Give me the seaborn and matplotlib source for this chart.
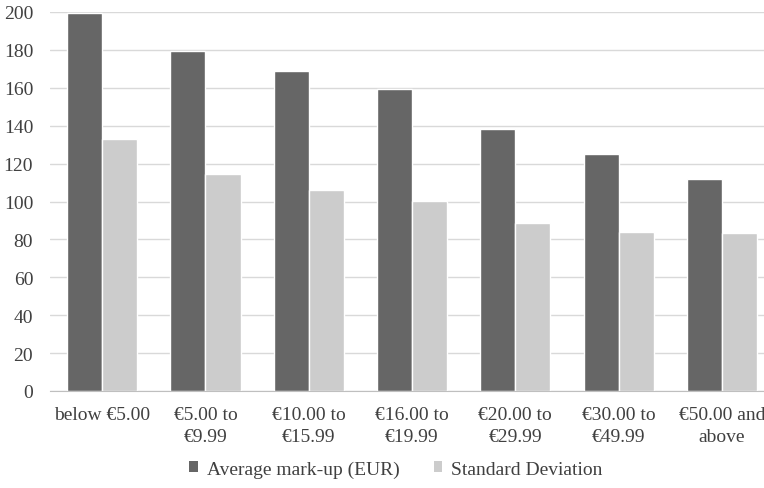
import seaborn as sns
import pandas as pd
import matplotlib.pyplot as plt
from matplotlib.patches import Patch

categories = ['below €5.00', '€5.00 to\n€9.99', '€10.00 to\n€15.99', '€16.00 to\n€19.99',
              '€20.00 to\n€29.99', '€30.00 to\n€49.99', '€50.00 and\nabove']
avg_markup = [199.3, 179.5, 168.8, 159.6, 138.5, 125.3, 111.7]
std_dev = [133.2, 114.7, 105.9, 100.4, 88.8, 84.0, 83.5]
series = ['Average mark-up (EUR)', 'Standard Deviation']
colors = ['#666666', '#cccccc']

df = pd.DataFrame({
    'category': categories * 2,
    'value': avg_markup + std_dev,
    'series': [series[0]] * len(categories) + [series[1]] * len(categories),
})

sns.set_style('white')
plt.rcParams['font.family'] = ['Liberation Serif', 'DejaVu Serif']

fig = plt.figure(figsize=(7.64, 4.89), dpi=100)
W, H = 764, 489
ax = fig.add_axes([50.5 / W, 1 - 392 / H, (764 - 50.5) / W, (392 - 13) / H])

sns.barplot(data=df, x='category', y='value', hue='series', palette=colors,
            width=0.68, saturation=1, ax=ax, legend=False)

ax.set_ylim(0, 200)
ax.set_xlim(-0.5, 6.407)
ax.set_yticks(range(0, 201, 20))
ax.yaxis.grid(True, color='#d9d9d9', linewidth=1)
ax.set_axisbelow(True)
for s in ['top', 'right', 'left']:
    ax.spines[s].set_visible(False)
ax.spines['bottom'].set_color('#bfbfbf')
ax.tick_params(axis='both', length=0, labelsize=14, labelcolor='#404040')
ax.tick_params(axis='x', pad=11)
ax.tick_params(axis='y', pad=12.5)
for lab in ax.get_xticklabels():
    lab.set_linespacing(1.4)
ax.set_xlabel('')
ax.set_ylabel('')

handles = [Patch(facecolor=c, edgecolor='none') for c in colors]
fig.legend(handles, series, loc='center', bbox_to_anchor=(396 / W, 1 - 470 / H),
           ncol=2, frameon=False, fontsize=14, handlelength=0.45, handleheight=0.45,
           handletextpad=0.45, columnspacing=1.75, labelcolor='#404040')

fig.savefig('out.png', dpi=100)
